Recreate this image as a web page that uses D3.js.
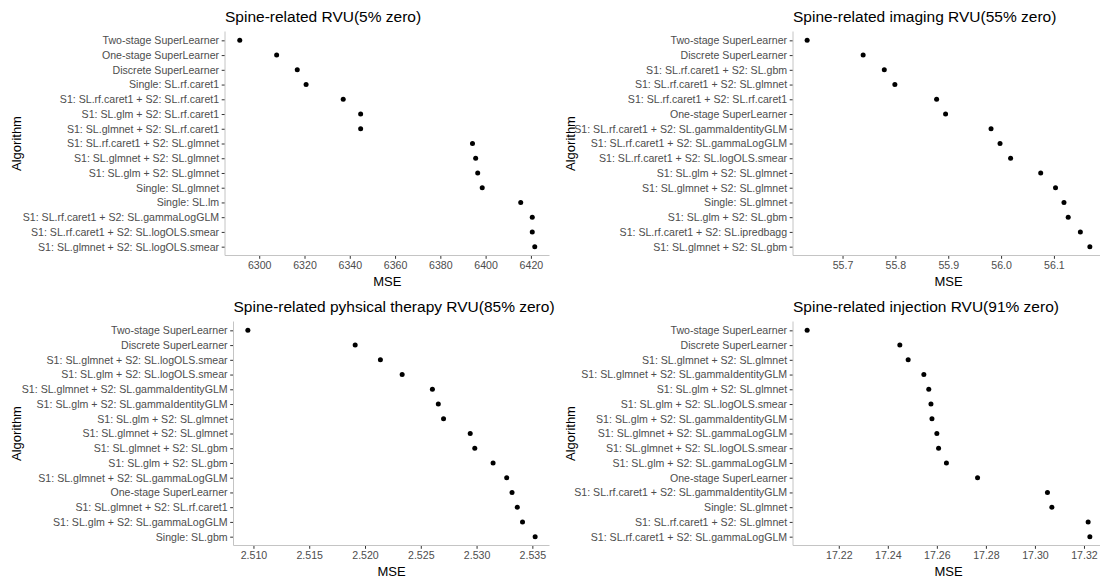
<!DOCTYPE html>
<html>
<head>
<meta charset="utf-8">
<script src="https://cdn.jsdelivr.net/npm/d3@7"></script>
<style>
  body { margin: 0; background: #fff; }
  svg { display: block; font-family: "Liberation Sans", Arial, sans-serif; }
</style>
</head>
<body>
<div id="chart"></div>
<script>
// Spine-related RVU (5% zero)
const rvuLabels = [
  "Two-stage SuperLearner", "One-stage SuperLearner", "Discrete SuperLearner",
  "Single: SL.rf.caret1", "S1: SL.rf.caret1 + S2: SL.rf.caret1",
  "S1: SL.glm + S2: SL.rf.caret1", "S1: SL.glmnet + S2: SL.rf.caret1",
  "S1: SL.rf.caret1 + S2: SL.glmnet", "S1: SL.glmnet + S2: SL.glmnet",
  "S1: SL.glm + S2: SL.glmnet", "Single: SL.glmnet", "Single: SL.lm",
  "S1: SL.rf.caret1 + S2: SL.gammaLogGLM", "S1: SL.rf.caret1 + S2: SL.logOLS.smear",
  "S1: SL.glmnet + S2: SL.logOLS.smear"
];
const rvuMSE = [6291.4, 6307.7, 6316.8, 6320.7, 6337.1, 6344.8, 6344.8,
  6394.2, 6395.6, 6396.5, 6398.5, 6415.5, 6420.6, 6420.6, 6421.7];
const rvuTicks = [6300, 6320, 6340, 6360, 6380, 6400, 6420];

// Spine-related imaging RVU (55% zero)
const imgLabels = [
  "Two-stage SuperLearner", "Discrete SuperLearner", "S1: SL.rf.caret1 + S2: SL.gbm",
  "S1: SL.rf.caret1 + S2: SL.glmnet", "S1: SL.rf.caret1 + S2: SL.rf.caret1",
  "One-stage SuperLearner", "S1: SL.rf.caret1 + S2: SL.gammaIdentityGLM",
  "S1: SL.rf.caret1 + S2: SL.gammaLogGLM", "S1: SL.rf.caret1 + S2: SL.logOLS.smear",
  "S1: SL.glm + S2: SL.glmnet", "S1: SL.glmnet + S2: SL.glmnet", "Single: SL.glmnet",
  "S1: SL.glm + S2: SL.gbm", "S1: SL.rf.caret1 + S2: SL.ipredbagg",
  "S1: SL.glmnet + S2: SL.gbm"
];
const imgMSE = [55.633, 55.739, 55.779, 55.799, 55.878, 55.895, 55.981, 55.998,
  56.018, 56.075, 56.103, 56.119, 56.127, 56.150, 56.168];
const imgTicks = [55.7, 55.8, 55.9, 56.0, 56.1];

// Spine-related physical therapy RVU (85% zero)
const ptLabels = [
  "Two-stage SuperLearner", "Discrete SuperLearner", "S1: SL.glmnet + S2: SL.logOLS.smear",
  "S1: SL.glm + S2: SL.logOLS.smear", "S1: SL.glmnet + S2: SL.gammaIdentityGLM",
  "S1: SL.glm + S2: SL.gammaIdentityGLM", "S1: SL.glm + S2: SL.glmnet",
  "S1: SL.glmnet + S2: SL.glmnet", "S1: SL.glmnet + S2: SL.gbm", "S1: SL.glm + S2: SL.gbm",
  "S1: SL.glmnet + S2: SL.gammaLogGLM", "One-stage SuperLearner",
  "S1: SL.glmnet + S2: SL.rf.caret1", "S1: SL.glm + S2: SL.gammaLogGLM", "Single: SL.gbm"
];
const ptMSE = [2.5095, 2.51912, 2.52138, 2.52333, 2.52604, 2.52657, 2.52704, 2.52943,
  2.52984, 2.53148, 2.53270, 2.53318, 2.53365, 2.53412, 2.53525];
const ptTicks = [2.510, 2.515, 2.520, 2.525, 2.530, 2.535];

// Spine-related injection RVU (91% zero)
const injLabels = [
  "Two-stage SuperLearner", "Discrete SuperLearner", "S1: SL.glmnet + S2: SL.glmnet",
  "S1: SL.glmnet + S2: SL.gammaIdentityGLM", "S1: SL.glm + S2: SL.glmnet",
  "S1: SL.glm + S2: SL.logOLS.smear", "S1: SL.glm + S2: SL.gammaIdentityGLM",
  "S1: SL.glmnet + S2: SL.gammaLogGLM", "S1: SL.glmnet + S2: SL.logOLS.smear",
  "S1: SL.glm + S2: SL.gammaLogGLM", "One-stage SuperLearner",
  "S1: SL.rf.caret1 + S2: SL.gammaIdentityGLM", "Single: SL.glmnet",
  "S1: SL.rf.caret1 + S2: SL.glmnet", "S1: SL.rf.caret1 + S2: SL.gammaLogGLM"
];
const injMSE = [17.2071, 17.2449, 17.2483, 17.2547, 17.2567, 17.2576, 17.2580, 17.2600,
  17.2607, 17.2639, 17.2766, 17.3051, 17.3069, 17.3217, 17.3224];
const injTicks = [17.22, 17.24, 17.26, 17.28, 17.30, 17.32];

const width = 1100, height = 578;

const panels = [
  { title: "Spine-related RVU(5% zero)", labels: rvuLabels, values: rvuMSE, ticks: rvuTicks, fmt: "d",
    left: 225, right: 549.5, top: 31.5, bottom: 255.5, ytitleX: 16 },
  { title: "Spine-related imaging RVU(55% zero)", labels: imgLabels, values: imgMSE, ticks: imgTicks, fmt: ".1f",
    left: 793, right: 1104, top: 31.5, bottom: 255.5, ytitleX: 570 },
  { title: "Spine-related pyhsical therapy RVU(85% zero)", labels: ptLabels, values: ptMSE, ticks: ptTicks, fmt: ".3f",
    left: 233.5, right: 549.5, top: 321.5, bottom: 545.5, ytitleX: 16 },
  { title: "Spine-related injection RVU(91% zero)", labels: injLabels, values: injMSE, ticks: injTicks, fmt: ".2f",
    left: 793, right: 1104, top: 321.5, bottom: 545.5, ytitleX: 570 }
];

const svg = d3.select("#chart")
  .append("svg")
  .attr("width", width)
  .attr("height", height);

panels.forEach(p => {
  const g = svg.append("g");

  const [lo, hi] = d3.extent(p.values);
  const pad = (hi - lo) * 0.05;
  const x = d3.scaleLinear().domain([lo - pad, hi + pad]).range([p.left, p.right]);
  const y = d3.scalePoint().domain(p.labels).range([p.top, p.bottom]).padding(0.6);

  // y axis
  const yAxis = g.append("g")
    .attr("transform", `translate(${p.left},0)`)
    .call(d3.axisLeft(y).tickSize(3.3).tickPadding(2.6));
  yAxis.select(".domain").remove();

  // x axis
  const xAxis = g.append("g")
    .attr("transform", `translate(0,${p.bottom})`)
    .call(d3.axisBottom(x).tickValues(p.ticks).tickFormat(d3.format(p.fmt)).tickSize(3.3).tickPadding(2.4));
  xAxis.select(".domain").remove();

  [yAxis, xAxis].forEach(ax => {
    ax.selectAll(".tick line").attr("stroke", "#333333").attr("stroke-width", 1);
    ax.selectAll(".tick text")
      .attr("fill", "#4d4d4d")
      .style("font-size", "10.6px")
      .style("font-family", '"Liberation Sans", Arial, sans-serif');
  });

  // axis lines (light grey)
  g.append("line")
    .attr("x1", p.left).attr("x2", p.left)
    .attr("y1", p.top).attr("y2", p.bottom)
    .attr("stroke", "#c4c4c4").attr("stroke-width", 1);
  g.append("line")
    .attr("x1", p.left).attr("x2", p.right)
    .attr("y1", p.bottom).attr("y2", p.bottom)
    .attr("stroke", "#c4c4c4").attr("stroke-width", 1);

  // points
  g.append("g")
    .selectAll("circle")
    .data(p.labels.map((d, i) => ({ label: d, value: p.values[i] })))
    .join("circle")
    .attr("cx", d => x(d.value))
    .attr("cy", d => y(d.label))
    .attr("r", 2.5)
    .attr("fill", "#000");

  // title
  g.append("text")
    .attr("x", p.left)
    .attr("y", p.top - 9.5)
    .attr("fill", "#000")
    .style("font-size", "15.5px")
    .text(p.title);

  // axis titles
  g.append("text")
    .attr("x", (p.left + p.right) / 2)
    .attr("y", p.bottom + 30.5)
    .attr("text-anchor", "middle")
    .attr("fill", "#000")
    .style("font-size", "13px")
    .text("MSE");

  g.append("text")
    .attr("transform", `translate(${p.ytitleX + 4.5},${(p.top + p.bottom) / 2}) rotate(-90)`)
    .attr("text-anchor", "middle")
    .attr("fill", "#000")
    .style("font-size", "13px")
    .text("Algorithm");
});
</script>
</body>
</html>
